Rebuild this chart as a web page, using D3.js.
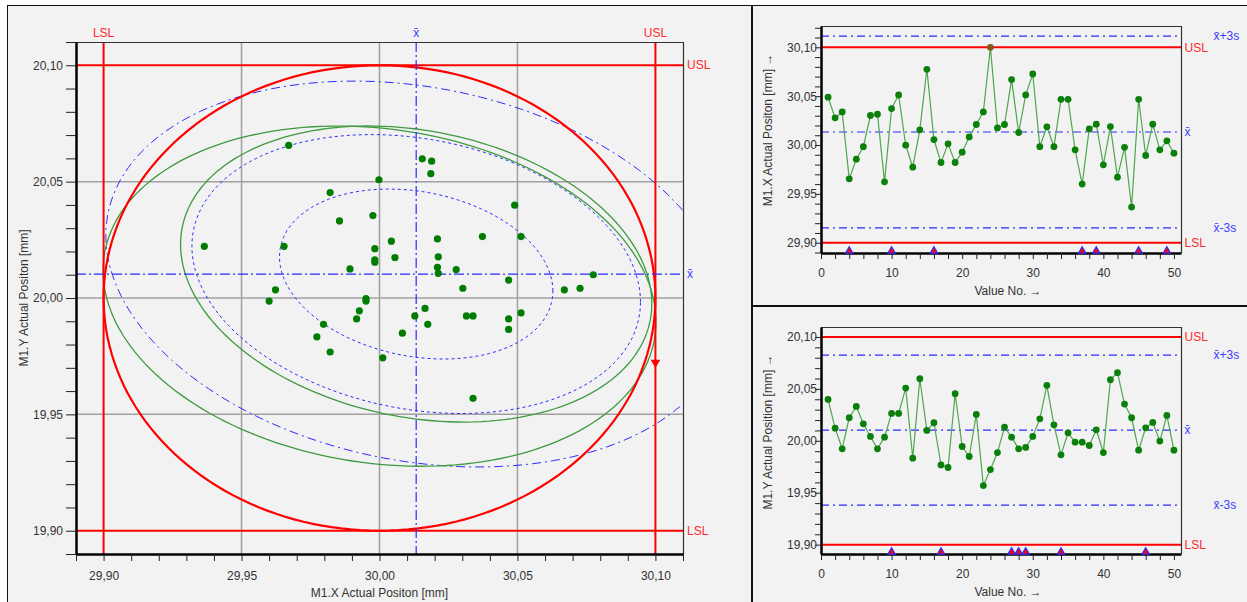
<!DOCTYPE html>
<html>
<head>
<meta charset="utf-8">
<script src="https://cdn.jsdelivr.net/npm/d3@7"></script>
<style>
  body { margin: 0; background: #fff; }
  svg text { font-family: "Liberation Sans", Arial, "DejaVu Sans", sans-serif; font-size: 12px; }
</style>
</head>
<body>
<svg id="chart" width="1247" height="602"></svg>
<script>
// measured values, 50 parts
var valueNo = d3.range(1, 51);
var xValues = [30.0490, 30.0278, 30.0339, 29.9654, 29.9855, 29.9983, 30.0302, 30.0315, 29.9623, 30.0373,
               30.0513, 29.9998, 29.9773, 30.0155, 30.0775, 30.0056, 29.9821, 30.0012, 29.9821, 29.9927,
               30.0083, 30.0210, 30.0339, 30.1000, 30.0175, 30.0210, 30.0670, 30.0128, 30.0513, 30.0727,
               29.9983, 30.0186, 29.9983, 30.0468, 30.0468, 29.9951, 29.9600, 30.0165, 30.0213, 29.9797,
               30.0189, 29.9671, 29.9976, 29.9365, 30.0468, 29.9893, 30.0213, 29.9951, 30.0043, 29.9917];
var yValues = [20.0399, 20.0122, 19.9923, 20.0222, 20.0331, 20.0164, 20.0042, 19.9923, 20.0035, 20.0264,
               20.0264, 20.0508, 19.9833, 20.0598, 20.0100, 20.0174, 19.9768, 19.9743, 20.0453, 19.9945,
               19.9849, 20.0254, 19.9569, 19.9723, 19.9887, 20.0132, 20.0035, 19.9923, 19.9936, 20.0042,
               20.0212, 20.0534, 20.0154, 19.9865, 20.0077, 19.9987, 19.9987, 19.9955, 20.0106, 19.9887,
               20.0588, 20.0656, 20.0354, 20.0222, 19.9910, 20.0125, 20.0177, 19.9997, 20.0244, 19.9910];

// value numbers with an event flag on the run charts
var xFlags = [4, 10, 16, 37, 39, 45, 49];
var yFlags = [10, 17, 27, 28, 29, 34, 46];

// tolerances [LSL, nominal, USL]
var xTol = [29.90, 30.00, 30.10];
var yTol = [19.90, 20.00, 20.10];

// statistics [mean, s]
var xStat = [30.0133, 0.0327];
var yStat = [20.0103, 0.0241];
var corr = -0.2;

// probability ellipses (factor on s): 68.27 %, 95.45 %, 99.73 %
var ellipseK = [1.515, 2.486, 3.44];
// capability ellipses [cx, cy, rx, ry, rho]
var capEllipseA = [30.0000, 20.0008, 0.1002, 0.0731, -0.15];
var capEllipseB = [30.0133, 20.0103, 0.0854, 0.0636, -0.2];

var comma = d3.formatLocale({decimal: ",", thousands: ".", grouping: [3], currency: ["", ""]}).format(".2f");
var XBAR = "x\u0304";
var RED = "#ff0000", BLUE = "#2b2bff", LBLRED = "#ff2a2a", LBLBLUE = "#3b3bff";

var svg = d3.select("#chart");

// panels
svg.append("rect").attr("x", 7.5).attr("y", 5.5).attr("width", 744).attr("height", 610)
  .attr("fill", "#f2f2f2").attr("stroke", "#111");
svg.append("rect").attr("x", 752.5).attr("y", 5.5).attr("width", 500).attr("height", 300)
  .attr("fill", "#f2f2f2").attr("stroke", "#111");
svg.append("rect").attr("x", 752.5).attr("y", 306.5).attr("width", 500).attr("height", 310)
  .attr("fill", "#f2f2f2").attr("stroke", "#111");

function ellipsePoints(cx, cy, rx, ry, rho) {
  return d3.range(0, 361, 2).map(function(a) {
    var t = a * Math.PI / 180;
    return [cx + rx * Math.cos(t), cy + ry * (rho * Math.cos(t) + Math.sqrt(1 - rho * rho) * Math.sin(t))];
  });
}

function styleAxis(g) {
  g.select(".domain").attr("stroke", "#000").attr("stroke-width", 2.5);
  g.selectAll(".tick line").attr("stroke", "#222");
  g.selectAll(".tick text").attr("fill", "#333").style("font-size", "12px");
}

// ---------------- scatter (left) ----------------
var sp = {left: 76, right: 683, top: 42, bottom: 554};
var sx = d3.scaleLinear().domain([29.89, 30.11]).range([sp.left, sp.right]);
var sy = d3.scaleLinear().domain([19.89, 20.11]).range([sp.bottom, sp.top]);

svg.append("clipPath").attr("id", "clipS").append("rect")
  .attr("x", sp.left).attr("y", sp.top).attr("width", sp.right - sp.left).attr("height", sp.bottom - sp.top);

var sg = svg.append("g");
var plotS = sg.append("g").attr("clip-path", "url(#clipS)");

// grid
[29.95, 30.00, 30.05].forEach(function(v) {
  plotS.append("line").attr("x1", sx(v)).attr("x2", sx(v)).attr("y1", sp.top).attr("y2", sp.bottom)
    .attr("stroke", "#a0a0a0").attr("stroke-width", 1.5);
});
[19.95, 20.00, 20.05].forEach(function(v) {
  plotS.append("line").attr("y1", sy(v)).attr("y2", sy(v)).attr("x1", sp.left).attr("x2", sp.right)
    .attr("stroke", "#a0a0a0").attr("stroke-width", 1.5);
});

var eLine = d3.line().x(function(d) { return sx(d[0]); }).y(function(d) { return sy(d[1]); });

// probability ellipses
var eDash = ["3,3", "3,3", "9,4,2,4"];
ellipseK.forEach(function(k, i) {
  plotS.append("path")
    .attr("d", eLine(ellipsePoints(xStat[0], yStat[0], k * xStat[1], k * yStat[1], corr)))
    .attr("fill", "none").attr("stroke", BLUE).attr("stroke-width", 1).attr("stroke-dasharray", eDash[i]);
});

// capability ellipses
[capEllipseA, capEllipseB].forEach(function(e) {
  plotS.append("path").attr("d", eLine(ellipsePoints(e[0], e[1], e[2], e[3], e[4])))
    .attr("fill", "none").attr("stroke", "#3f9a3f").attr("stroke-width", 1.3);
});

// tolerance lines and circle
xTol.filter(function(d, i) { return i != 1; }).forEach(function(v) {
  plotS.append("line").attr("x1", sx(v)).attr("x2", sx(v)).attr("y1", sp.top).attr("y2", sp.bottom)
    .attr("stroke", RED).attr("stroke-width", 2);
});
yTol.filter(function(d, i) { return i != 1; }).forEach(function(v) {
  plotS.append("line").attr("y1", sy(v)).attr("y2", sy(v)).attr("x1", sp.left).attr("x2", sp.right)
    .attr("stroke", RED).attr("stroke-width", 2);
});
plotS.append("path")
  .attr("d", eLine(ellipsePoints(xTol[1], yTol[1], (xTol[2] - xTol[0]) / 2, (yTol[2] - yTol[0]) / 2, 0)))
  .attr("fill", "none").attr("stroke", RED).attr("stroke-width", 2.2);

// mean lines
plotS.append("line").attr("x1", sx(xStat[0])).attr("x2", sx(xStat[0])).attr("y1", sp.top).attr("y2", sp.bottom)
  .attr("stroke", BLUE).attr("stroke-width", 1.2).attr("stroke-dasharray", "10,3,2,3");
plotS.append("line").attr("y1", sy(yStat[0])).attr("y2", sy(yStat[0])).attr("x1", sp.left).attr("x2", sp.right)
  .attr("stroke", BLUE).attr("stroke-width", 1.2).attr("stroke-dasharray", "10,3,2,3");

// points
var pairs = xValues.map(function(x, i) { return [x, yValues[i]]; });
function outOfTol(p) {
  return p[0] >= xTol[2] || p[0] <= xTol[0] || p[1] >= yTol[2] || p[1] <= yTol[0];
}
plotS.selectAll(".pt").data(pairs.filter(function(p) { return !outOfTol(p); }))
  .enter().append("circle")
  .attr("cx", function(d) { return sx(d[0]); })
  .attr("cy", function(d) { return sy(d[1]); })
  .attr("r", 3.6).attr("fill", "#007d00");
plotS.selectAll(".out").data(pairs.filter(outOfTol))
  .enter().append("path")
  .attr("d", d3.symbol().type(d3.symbolTriangle).size(40))
  .attr("transform", function(d) { return "translate(" + sx(d[0]) + "," + sy(d[1]) + ") rotate(180)"; })
  .attr("fill", RED);

// frame
sg.append("path").attr("d", "M" + sp.left + "," + (sp.top + 0.5) + "H" + (sp.right + 0.5) + "V" + sp.bottom)
  .attr("fill", "none").attr("stroke", "#333").attr("stroke-width", 1.2);

// axes
var sTicksX = d3.range(2989, 3012).map(function(v) { return v / 100; });
var sTicksY = d3.range(1989, 2012).map(function(v) { return v / 100; });
function majorFmt(d) { return Math.round(d * 100) % 5 === 0 ? comma(d) : ""; }

sg.append("g").attr("transform", "translate(0," + sp.bottom + ")")
  .call(d3.axisBottom(sx).tickValues(sTicksX).tickSize(7).tickPadding(10).tickSizeOuter(0).tickFormat(majorFmt))
  .call(styleAxis);
sg.append("g").attr("transform", "translate(" + sp.left + ",0)")
  .call(d3.axisLeft(sy).tickValues(sTicksY).tickSize(10).tickPadding(3).tickSizeOuter(0).tickFormat(majorFmt))
  .call(styleAxis);

sg.append("text").attr("x", (sp.left + sp.right) / 2).attr("y", 597).attr("text-anchor", "middle")
  .attr("fill", "#333").text("M1.X Actual Positon [mm]");
sg.append("text").attr("transform", "translate(28," + ((sp.top + sp.bottom) / 2) + ") rotate(-90)")
  .attr("text-anchor", "middle").attr("fill", "#333").text("M1.Y Actual Positon [mm]");

// limit labels
sg.append("text").attr("x", sx(xTol[0])).attr("y", 33).attr("dy", ".35em").attr("text-anchor", "middle")
  .attr("fill", LBLRED).text("LSL");
sg.append("text").attr("x", sx(xTol[2])).attr("y", 33).attr("dy", ".35em").attr("text-anchor", "middle")
  .attr("fill", LBLRED).text("USL");
sg.append("text").attr("x", sx(xStat[0])).attr("y", 33).attr("dy", ".35em").attr("text-anchor", "middle")
  .attr("fill", LBLBLUE).text(XBAR);
sg.append("text").attr("x", sp.right + 4).attr("y", sy(yTol[2])).attr("dy", ".35em").attr("fill", LBLRED).text("USL");
sg.append("text").attr("x", sp.right + 4).attr("y", sy(yTol[0])).attr("dy", ".35em").attr("fill", LBLRED).text("LSL");
sg.append("text").attr("x", sp.right + 4).attr("y", sy(yStat[0])).attr("dy", ".35em").attr("fill", LBLBLUE).text(XBAR);

// ---------------- run charts (right) ----------------
function runChart(id, values, tol, stat, flags, box, yDomain, yTitle, titleY) {
  var x = d3.scaleLinear().domain([0, 51]).range([box.left, box.right]);
  var y = d3.scaleLinear().domain(yDomain).range([box.bottom, box.top]);
  var g = svg.append("g");

  svg.append("clipPath").attr("id", id).append("rect")
    .attr("x", box.left).attr("y", box.top).attr("width", box.right - box.left).attr("height", box.bottom - box.top);
  var p = g.append("g").attr("clip-path", "url(#" + id + ")");

  // limits
  [tol[0], tol[2]].forEach(function(v) {
    p.append("line").attr("x1", box.left).attr("x2", box.right).attr("y1", y(v)).attr("y2", y(v))
      .attr("stroke", RED).attr("stroke-width", 2);
  });
  [stat[0] + 3 * stat[1], stat[0], stat[0] - 3 * stat[1]].forEach(function(v) {
    p.append("line").attr("x1", box.left).attr("x2", box.right).attr("y1", y(v)).attr("y2", y(v))
      .attr("stroke", BLUE).attr("stroke-width", 1.2).attr("stroke-dasharray", "8,4,2,4");
  });

  // values
  p.append("path").datum(values)
    .attr("d", d3.line().x(function(d, i) { return x(valueNo[i]); }).y(function(d) { return y(d); }))
    .attr("fill", "none").attr("stroke", "#4ea64e").attr("stroke-width", 1.2);
  p.selectAll(".pt").data(values).enter().append("circle")
    .attr("cx", function(d, i) { return x(valueNo[i]); })
    .attr("cy", function(d) { return y(d); })
    .attr("r", 3.4)
    .attr("fill", function(d) { return (d >= tol[2] || d <= tol[0]) ? "#7d5a1a" : "#0a800a"; });

  // frame
  g.append("path").attr("d", "M" + box.left + "," + (box.top + 0.5) + "H" + (box.right + 0.5) + "V" + box.bottom)
    .attr("fill", "none").attr("stroke", "#333").attr("stroke-width", 1.2);

  // axes
  var yt = d3.range(Math.ceil(yDomain[0] * 100 - 1e-6), Math.floor(yDomain[1] * 100 + 1e-6) + 1)
    .map(function(v) { return v / 100; });
  g.append("g").attr("transform", "translate(0," + box.bottom + ")")
    .call(d3.axisBottom(x).tickValues(d3.range(0, 51, 2)).tickSize(6).tickPadding(9).tickSizeOuter(0)
      .tickFormat(function(d) { return d % 10 === 0 ? d : ""; }))
    .call(styleAxis);
  g.append("g").attr("transform", "translate(" + box.left + ",0)")
    .call(d3.axisLeft(y).tickValues(yt).tickSize(6).tickPadding(-2).tickSizeOuter(0).tickFormat(majorFmt))
    .call(styleAxis);

  // flags
  g.selectAll(".flag").data(flags).enter().append("path")
    .attr("d", d3.symbol().type(d3.symbolTriangle).size(24))
    .attr("transform", function(d) { return "translate(" + x(d) + "," + (box.bottom - 2) + ")"; })
    .attr("fill", RED).attr("stroke", BLUE).attr("stroke-width", 1.2);

  // titles
  g.append("text").attr("x", 1008).attr("y", box.bottom + 42).attr("text-anchor", "middle")
    .attr("fill", "#333").text("Value No. \u2192");
  g.append("text").attr("transform", "translate(772," + titleY + ") rotate(-90)")
    .attr("text-anchor", "middle").attr("fill", "#333").text(yTitle + " \u2192");

  // limit labels
  var lx = box.right + 3.5, lx2 = box.right + 32.5;
  g.append("text").attr("x", lx).attr("y", y(tol[2])).attr("dy", ".35em").attr("fill", LBLRED).text("USL");
  g.append("text").attr("x", lx).attr("y", y(tol[0])).attr("dy", ".35em").attr("fill", LBLRED).text("LSL");
  g.append("text").attr("x", lx).attr("y", y(stat[0])).attr("dy", ".35em").attr("fill", LBLBLUE).text(XBAR);
  g.append("text").attr("x", lx2).attr("y", y(stat[0] + 3 * stat[1])).attr("dy", ".35em").attr("fill", LBLBLUE).text(XBAR + "+3s");
  g.append("text").attr("x", lx2).attr("y", y(stat[0] - 3 * stat[1])).attr("dy", ".35em").attr("fill", LBLBLUE).text(XBAR + "-3s");
}

runChart("clipX", xValues, xTol, xStat, xFlags, {left: 821, right: 1181, top: 26, bottom: 253},
  [29.8895, 30.1218], "M1.X Actual Positon [mm]", 130);
runChart("clipY", yValues, yTol, yStat, yFlags, {left: 821, right: 1181, top: 327, bottom: 554},
  [19.891, 20.1096], "M1.Y Actual Position [mm]", 432);
</script>
</body>
</html>
